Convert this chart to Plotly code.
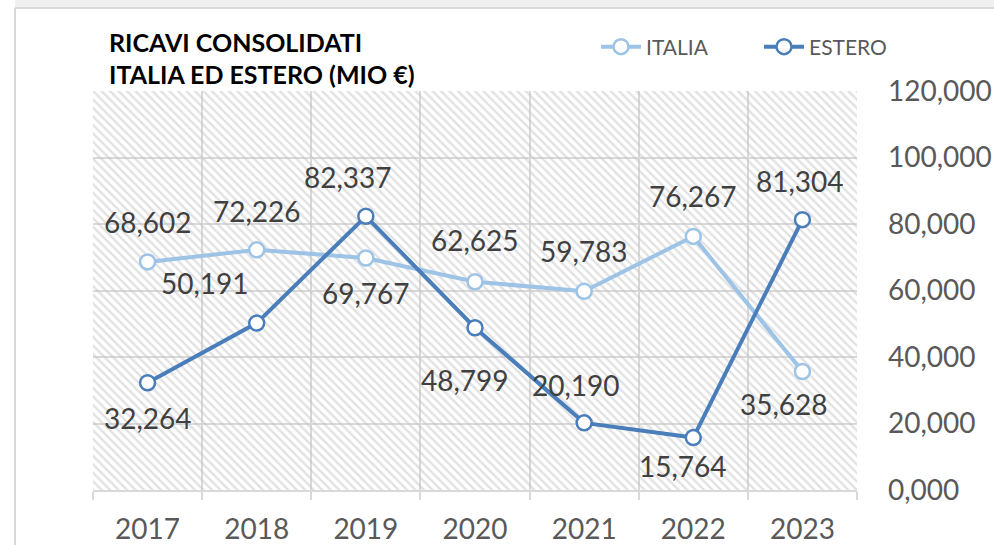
import plotly.graph_objects as go

# Consolidated revenues, million euro
years = ["2017", "2018", "2019", "2020", "2021", "2022", "2023"]
italia = [68.602, 72.226, 69.767, 62.625, 59.783, 76.267, 35.628]
estero = [32.264, 50.191, 82.337, 48.799, 20.190, 15.764, 81.304]
y_ticks = [0, 20, 40, 60, 80, 100, 120]

# label offsets in px (dx, dy) relative to each point
italia_off = [(0, -40), (0, -39), (0, 35), (0, -42), (0, -40), (0, -40), (-18, 32)]
estero_off = [(0, 35), (-52, -40), (-18, -39), (-10, 52), (-8, -38), (-10, 28), (-2, -39)]

C_IT = "#9DC3E6"
C_ES = "#4A7EBB"
FONT = "Lato"
TXT = "#404040"
GRID = "#d9d9d9"

L, R, T, B = 93, 137, 91, 55
W, H = 994, 545
PW, PH = W - L - R, H - T - B


def px(x):
    return (x - L) / PW


def py(y):
    return (H - B - y) / PH


def fmt(v):
    return f"{v:.3f}".replace(".", ",")


fig = go.Figure()

# hatched plot background
fig.add_trace(go.Bar(
    x=years, y=[y_ticks[-1]] * len(years), width=1,
    marker=dict(color="rgba(0,0,0,0)", line=dict(width=0),
                pattern=dict(shape="\\", fgcolor="#c4c4c4", bgcolor="rgba(0,0,0,0)",
                             size=6, solidity=0.4)),
    hoverinfo="skip", showlegend=False,
))

for name, vals, col in [("ITALIA", italia, C_IT), ("ESTERO", estero, C_ES)]:
    fig.add_trace(go.Scatter(
        x=years, y=vals, name=name, mode="lines+markers",
        line=dict(color=col, width=4),
        marker=dict(size=15, color="white", line=dict(color=col, width=2.5)),
        hoverinfo="skip",
    ))

ann = []
for vals, offs in [(italia, italia_off), (estero, estero_off)]:
    for i, (v, (dx, dy)) in enumerate(zip(vals, offs)):
        ann.append(dict(x=i, y=v, xref="x", yref="y", text=fmt(v), showarrow=False,
                        xshift=dx, yshift=-dy,
                        font=dict(family=FONT, size=28, color=TXT)))

ann.append(dict(xref="paper", yref="paper", x=px(107), y=py(42), xanchor="left",
                yanchor="middle", showarrow=False, text="<b>RICAVI CONSOLIDATI</b>",
                font=dict(family=FONT, size=25, color="black")))
ann.append(dict(xref="paper", yref="paper", x=px(107), y=py(74), xanchor="left",
                yanchor="middle", showarrow=False, text="<b>ITALIA ED ESTERO (MIO €)</b>",
                font=dict(family=FONT, size=25, color="black")))

shapes = [
    dict(type="rect", xref="paper", yref="paper", x0=px(15), x1=px(W), y0=py(8), y1=py(0),
         fillcolor="#f0f0f0", line=dict(width=0), layer="below"),
    dict(type="line", xref="paper", yref="paper", x0=px(15), x1=px(W), y0=py(8), y1=py(8),
         line=dict(color=GRID, width=2)),
    dict(type="line", xref="paper", yref="paper", x0=px(15), x1=px(15), y0=py(8), y1=py(H),
         line=dict(color=GRID, width=2)),
]

fig.update_layout(
    width=W, height=H, margin=dict(l=L, r=R, t=T, b=B, autoexpand=False),
    paper_bgcolor="white", plot_bgcolor="white",
    separators=",.", bargap=0,
    annotations=ann, shapes=shapes,
    legend=dict(orientation="h", x=px(596), y=py(47), xanchor="left", yanchor="middle",
                font=dict(family=FONT, size=21, color="#595959"),
                bgcolor="rgba(0,0,0,0)", itemwidth=40, entrywidth=108),
    xaxis=dict(type="category", range=[-0.5, 6.5], tickson="boundaries",
               showgrid=True, gridcolor=GRID, gridwidth=1.5,
               ticks="outside", ticklen=8, tickcolor=GRID, tickwidth=1.5,
               showline=True, linecolor=GRID, linewidth=1.5,
               tickfont=dict(family=FONT, size=28, color="#595959"),
               ticklabelstandoff=14, automargin=False, fixedrange=True),
    yaxis=dict(side="right", range=[0, 120], tickvals=y_ticks, tickformat=".3f",
               showgrid=True, gridcolor=GRID, gridwidth=1.5, zeroline=False,
               showline=False, ticks="",
               tickfont=dict(family=FONT, size=28, color="#595959"),
               ticklabelstandoff=30, automargin=False, fixedrange=True),
    font=dict(family=FONT),
)

fig.write_html("out.html", config={"displayModeBar": False})
